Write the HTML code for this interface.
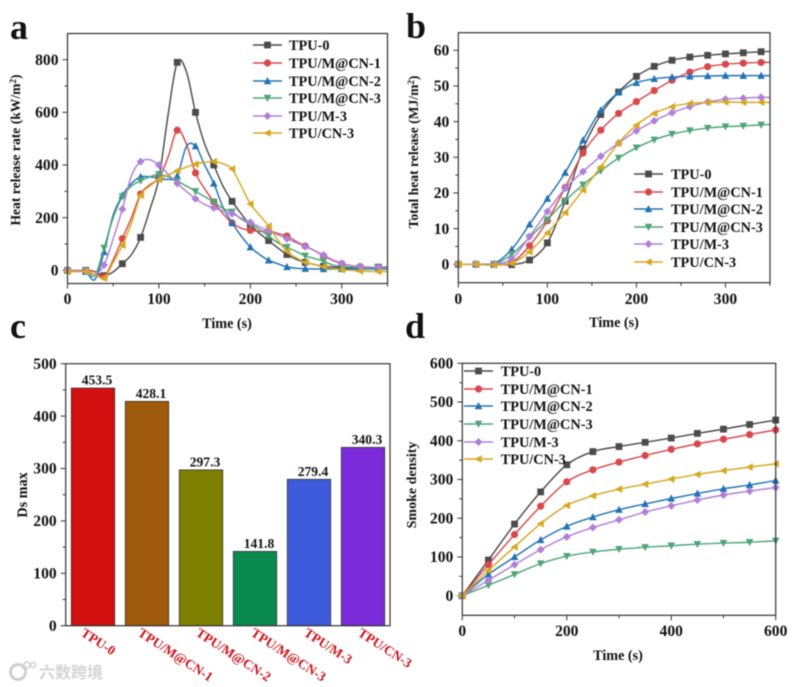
<!DOCTYPE html>
<html lang="en">
<head>
<meta charset="utf-8">
<title>Fire performance of TPU composites</title>
<style>
html,body{margin:0;padding:0;background:#fff;}
#figure{display:block;width:792px;height:687px;filter:blur(0.45px);}
text{font-family:"Liberation Serif","Noto Sans CJK SC",serif;font-weight:bold;fill:#111;}
</style>
</head>
<body>
<svg id="figure" xmlns="http://www.w3.org/2000/svg" width="792" height="687" viewBox="0 0 792 687">
  <rect width="792" height="687" fill="#fff"/>
  <text x="10" y="39" font-size="36">a</text>
  <text x="406" y="38" font-size="36">b</text>
  <text x="10" y="338" font-size="36">c</text>
  <text x="405" y="338" font-size="36">d</text>
  <text transform="translate(20,150) rotate(-90)" text-anchor="middle" font-size="13.6">Heat release rate (kW/m<tspan font-size="9" dy="-4">2</tspan><tspan dy="4">)</tspan></text>
  <text x="227" y="328" text-anchor="middle" font-size="14.2">Time (s)</text>
  <text transform="translate(418,152) rotate(-90)" text-anchor="middle" font-size="13.6">Total heat release (MJ/m<tspan font-size="9" dy="-4">2</tspan><tspan dy="4">)</tspan></text>
  <text x="614" y="327" text-anchor="middle" font-size="14.2">Time (s)</text>
  <text transform="translate(27,495) rotate(-90)" text-anchor="middle" font-size="14.2">Ds max</text>
  <text transform="translate(416,485) rotate(-90)" text-anchor="middle" font-size="14">Smoke density</text>
  <text x="618" y="660" text-anchor="middle" font-size="14.2">Time (s)</text>
  <g id="layer"></g>
  <g>
    <circle cx="18" cy="672" r="7.5" fill="none" stroke="#cfcfcf" stroke-width="3"/>
    <circle cx="27" cy="665" r="3" fill="none" stroke="#cfcfcf" stroke-width="1.5"/>
    <circle cx="33" cy="665" r="2.5" fill="none" stroke="#cfcfcf" stroke-width="1.5"/>
    <text x="39" y="678" font-size="16" style="fill:#d4d4d4;font-family:'Noto Sans CJK SC',sans-serif;font-weight:bold;">六数跨境</text>
  </g>
</svg>
<script>
// Shared labels
const seriesNames = ['TPU-0', 'TPU/M@CN-1', 'TPU/M@CN-2', 'TPU/M@CN-3', 'TPU/M-3', 'TPU/CN-3'];

// Panel a: heat release rate (kW/m2) sampled every 10 s
const hrrTimes = [0,10,20,30,40,50,60,70,80,90,100,110,120,130,140,150,160,170,180,190,200,210,220,230,240,250,260,270,280,290,300,310,320,330,340,350];
const hrrTpu0 = [0,0,0,-5,-20,-6,25,60,125,230,350,590,790,755,600,480,400,320,262,215,172,140,113,85,60,42,30,22,15,12,10,9,8,8,12,12];
const hrrCn1 = [0,0,0,-5,-25,40,120,200,290,325,350,430,532,480,370,310,260,215,180,160,152,148,150,140,130,110,92,75,55,38,25,18,14,12,10,8];
const hrrCn2 = [0,0,-5,-35,70,210,285,330,355,355,350,345,358,470,472,400,330,240,180,130,88,60,38,25,13,8,6,5,5,5,5,5,5,5,5,5];
const hrrCn3 = [0,0,-3,-20,85,200,280,320,340,355,365,355,340,320,300,280,260,235,222,195,175,155,130,105,88,72,55,45,35,20,15,12,10,8,8,8];
const hrrM3 = [0,0,-3,-15,20,120,232,360,413,420,400,365,330,300,272,250,237,225,215,198,182,165,150,135,120,105,90,75,58,40,27,18,14,12,12,10];
const hrrCnOnly = [-5,-5,-5,-15,-30,30,95,180,285,320,345,362,378,392,403,410,413,405,385,320,252,210,168,115,72,48,30,22,14,6,2,0,-3,-4,-5,-5];

// Panel b: total heat release (MJ/m2) sampled every 20 s
const thrTimes = [0,20,40,60,80,100,120,140,160,180,200,220,240,260,280,300,320,340,350];
const thrTpu0 = [0,0,0,-0.1,1.2,6,17.7,32.3,42,48.3,52.7,55.5,57.2,58.1,58.6,59,59.3,59.6,59.7];
const thrCn1 = [0,0,0,0.5,5.2,12.2,21.5,31.2,37.6,42.3,45.6,48.7,51.6,53.9,55.4,56.1,56.4,56.6,56.6];
const thrCn2 = [0,0,0.2,4.2,11.2,18.4,25.7,34.8,43.2,48.2,50.9,52,52.5,52.7,52.8,52.9,52.9,52.9,52.9];
const thrCn3 = [0,0,0,2.8,7.5,12.5,17.8,22.3,26.2,29.8,32.7,34.9,36.5,37.5,38.2,38.6,38.8,39.1,39.2];
const thrM3 = [0,0,0,1.5,7.8,14.8,21.3,26,30.3,34,37.4,40.2,42.5,44.2,45.5,46.3,46.6,46.8,46.8];
const thrCnOnly = [0,0,-0.2,0.3,3.5,8.8,14.5,20.8,27.3,34,39,42.3,44.2,45.1,45.4,45.5,45.4,45.4,45.4];

// Panel c: maximum smoke density
const dsCategories = ['TPU-0', 'TPU/M@CN-1', 'TPU/M@CN-2', 'TPU/M@CN-3', 'TPU/M-3', 'TPU/CN-3'];
const dsValues = [453.5, 428.1, 297.3, 141.8, 279.4, 340.3];
const dsLabels = ['453.5', '428.1', '297.3', '141.8', '279.4', '340.3'];

// Panel d: smoke density sampled every 50 s
const smokeTimes = [0,50,100,150,200,250,300,350,400,450,500,550,600];
const smokeTpu0 = [0,92,185,268,338,372,385,396,407,419,430,442,453.5];
const smokeCn1 = [0,80,158,231,294,325,345,362,378,392,404,416,428.1];
const smokeCn2 = [0,55,100,144,179,203,222,237,251,264,276,286,297.3];
const smokeCn3 = [0,27,55,83,102,113,120,125,129,133,136,138,141.8];
const smokeM3 = [0,40,80,119,152,176,196,216,232,247,260,270,279.4];
const smokeCnOnly = [0,65,126,186,233,258,275,288,301,313,323,332,340.3];

// Tick labels
const hrrYTicks = [0,200,400,600,800];
const hrrXTicks = [0,100,200,300];
const thrYTicks = [0,10,20,30,40,50,60];
const thrXTicks = [0,100,200,300];
const dsYTicks = [0,100,200,300,400,500];
const smokeYTicks = [0,100,200,300,400,500,600];
const smokeXTicks = [0,200,400,600];

const lineColors = ['#4b4b4b', '#d8484c', '#2273b5', '#4fa578', '#b07fd8', '#d6a821'];
const markerColors = ['#4b4b4b', '#d8484c', '#2273b5', '#4fa578', '#b07fd8', '#d6a821'];
const barColors = ['#d31010', '#a05a0b', '#808000', '#0b8a50', '#3e5bdc', '#7b2bd9'];
const SVGNS = 'http://www.w3.org/2000/svg';
const layer = document.getElementById('layer');

function make(tag, attrs, parent, content) {
  const el = document.createElementNS(SVGNS, tag);
  for (const k in attrs) el.setAttribute(k, attrs[k]);
  if (content !== undefined) el.textContent = content;
  (parent || layer).appendChild(el);
  return el;
}
function linearScale(d0, d1, r0, r1) {
  return v => r0 + (v - d0) * (r1 - r0) / (d1 - d0);
}
function splinePath(pts) {
  let d = 'M' + pts[0][0].toFixed(2) + ' ' + pts[0][1].toFixed(2);
  for (let i = 0; i < pts.length - 1; i++) {
    const p0 = pts[Math.max(i - 1, 0)], p1 = pts[i], p2 = pts[i + 1], p3 = pts[Math.min(i + 2, pts.length - 1)];
    const c1x = p1[0] + (p2[0] - p0[0]) / 6, c1y = p1[1] + (p2[1] - p0[1]) / 6;
    const c2x = p2[0] - (p3[0] - p1[0]) / 6, c2y = p2[1] - (p3[1] - p1[1]) / 6;
    d += 'C' + c1x.toFixed(2) + ' ' + c1y.toFixed(2) + ' ' + c2x.toFixed(2) + ' ' + c2y.toFixed(2) + ' ' + p2[0].toFixed(2) + ' ' + p2[1].toFixed(2);
  }
  return d;
}
function drawMarker(kind, x, y, color, parent) {
  const r = 3.6;
  let el;
  if (kind === 0) {
    el = make('rect', {x: x - r + 0.2, y: y - r + 0.2, width: 2 * r - 0.4, height: 2 * r - 0.4, fill: color}, parent);
  } else if (kind === 1) {
    el = make('circle', {cx: x, cy: y, r: r, fill: color}, parent);
  } else {
    const shapes = {
      2: [[0, -r - 0.4], [r + 0.2, r - 0.4], [-r - 0.2, r - 0.4]],
      3: [[0, r + 0.4], [r + 0.2, -r + 0.4], [-r - 0.2, -r + 0.4]],
      4: [[0, -r - 0.4], [r + 0.4, 0], [0, r + 0.4], [-r - 0.4, 0]],
      5: [[-r - 0.4, 0], [r - 0.4, -r - 0.2], [r - 0.4, r + 0.2]]
    };
    const points = shapes[kind].map(p => (x + p[0]).toFixed(2) + ',' + (y + p[1]).toFixed(2)).join(' ');
    el = make('polygon', {points: points, fill: color}, parent);
  }
  
  
  return el;
}
function drawFrame(box, name) {
  const frame = make('rect', {x: box.left, y: box.top, width: box.right - box.left, height: box.bottom - box.top, fill: 'none', stroke: '#333', 'stroke-width': 1.2});
  
  
}
function drawYAxis(box, name, y, ticks, minorStep, minV, maxV) {
  for (let v = minV; v <= maxV + 1e-6; v += minorStep) {
    const isMajor = ticks.indexOf(v) >= 0;
    const tick = make('line', {x1: box.left - (isMajor ? 5 : 3), x2: box.left, y1: y(v), y2: y(v), stroke: '#333', 'stroke-width': 1});
    
    
  }
  ticks.forEach(v => {
    const label = make('text', {x: box.left - 9, y: y(v) + 5.2, 'text-anchor': 'end', 'font-size': 15.6}, layer, String(v));
    
    
  });
}
function drawXAxis(box, name, x, ticks, minorStep, maxV, labelBaseline) {
  for (let v = 0; v <= maxV + 1e-6; v += minorStep) {
    const isMajor = ticks.indexOf(v) >= 0;
    const tick = make('line', {x1: x(v), x2: x(v), y1: box.bottom, y2: box.bottom + (isMajor ? 5 : 3), stroke: '#333', 'stroke-width': 1});
    
    
  }
  ticks.forEach(v => {
    const label = make('text', {x: x(v), y: labelBaseline, 'text-anchor': 'middle', 'font-size': 15.6}, layer, String(v));
    
    
  });
}
function drawSeries(name, times, values, idx, x, y, showMarker) {
  const group = make('g', {});
  
  
  const pts = times.map((t, i) => [x(t), y(values[i])]);
  const path = make('path', {d: splinePath(pts), fill: 'none', stroke: lineColors[idx], 'stroke-width': 1.45, 'stroke-linejoin': 'round'}, group);
  
  
  times.forEach((t, i) => {
    if (showMarker(t)) drawMarker(idx, pts[i][0], pts[i][1], markerColors[idx], group);
  });
}
function drawLegend(name, lineX0, lineX1, textX, rows) {
  seriesNames.forEach((label, i) => {
    const row = make('g', {});
    
    
    const ln = make('line', {x1: lineX0, x2: lineX1, y1: rows[i], y2: rows[i], stroke: lineColors[i], 'stroke-width': 1.45}, row);
    
    
    drawMarker(i, (lineX0 + lineX1) / 2, rows[i], markerColors[i], row);
    const t = make('text', {x: textX, y: rows[i] + 5, 'font-size': 14.3}, row, label);
    
    
  });
}

// Panel a
(function () {
  const box = {left: 67.5, right: 387.5, top: 33.5, bottom: 283.5};
  const x = linearScale(0, 350, box.left, box.right);
  const y = linearScale(0, 800, 270.3, 59.7);
  drawYAxis(box, 'panel-a', y, hrrYTicks, 100, 0, 800);
  drawXAxis(box, 'panel-a', x, hrrXTicks, 50, 350, 304);
  [hrrTpu0, hrrCn1, hrrCn2, hrrCn3, hrrM3, hrrCnOnly].forEach((vals, i) => {
    drawSeries('panel-a', hrrTimes, vals, i, x, y, t => t % 20 === 0);
  });
  drawFrame(box, 'panel-a');
  drawLegend('panel-a', 253, 282, 289, [45, 63, 81, 98, 116, 133]);
})();

// Panel b
(function () {
  const box = {left: 458.3, right: 770, top: 32.7, bottom: 282.7};
  const x = linearScale(0, 350, box.left, box.right);
  const y = linearScale(0, 60, 264.3, 50.3);
  drawYAxis(box, 'panel-b', y, thrYTicks, 5, 0, 60);
  drawXAxis(box, 'panel-b', x, thrXTicks, 50, 350, 304);
  [thrTpu0, thrCn1, thrCn2, thrCn3, thrM3, thrCnOnly].forEach((vals, i) => {
    drawSeries('panel-b', thrTimes, vals, i, x, y, t => t % 20 === 0);
  });
  drawFrame(box, 'panel-b');
  drawLegend('panel-b', 634, 663, 671, [174, 192, 209, 227, 244, 262]);
})();

// Panel c
(function () {
  const box = {left: 65.7, right: 390, top: 363.7, bottom: 625.7};
  const y = linearScale(0, 500, box.bottom, box.top);
  const pitch = 54, barWidth = 43.4, firstCenter = 93;
  const labelEnds = [[80, 633], [137, 633], [195, 633], [250, 633], [303, 633], [357, 633]];
  drawYAxis(box, 'panel-c', y, dsYTicks, 50, 0, 500);
  dsValues.forEach((v, i) => {
    const cx = firstCenter + i * pitch;
    const bar = make('rect', {x: cx - barWidth / 2, y: y(v), width: barWidth, height: y(0) - y(v), fill: barColors[i], stroke: '#333', 'stroke-width': 0.8});
    
    
    const val = make('text', {x: cx + 4, y: y(v) - 3.5, 'text-anchor': 'middle', 'font-size': 13.6}, layer, dsLabels[i]);
    
    
    const cat = make('text', {transform: 'translate(' + labelEnds[i][0] + ',' + (labelEnds[i][1] + 2) + ') rotate(33)', 'font-size': 13.4, style: 'fill:#c8141c'}, layer, dsCategories[i]);
    
    
  });
  drawFrame(box, 'panel-c');
})();

// Panel d
(function () {
  const box = {left: 462.3, right: 775.7, top: 363.3, bottom: 615.3};
  const x = linearScale(0, 600, box.left, box.right);
  const y = linearScale(0, 600, 595.7, 363.3);
  drawYAxis(box, 'panel-d', y, smokeYTicks, 50, 0, 600);
  drawXAxis(box, 'panel-d', x, smokeXTicks, 100, 600, 636);
  [smokeTpu0, smokeCn1, smokeCn2, smokeCn3, smokeM3, smokeCnOnly].forEach((vals, i) => {
    drawSeries('panel-d', smokeTimes, vals, i, x, y, () => true);
  });
  drawFrame(box, 'panel-d');
  drawLegend('panel-d', 464, 493, 500.7, [371, 389, 406, 424, 442, 459]);
})();
</script>
</body>
</html>
